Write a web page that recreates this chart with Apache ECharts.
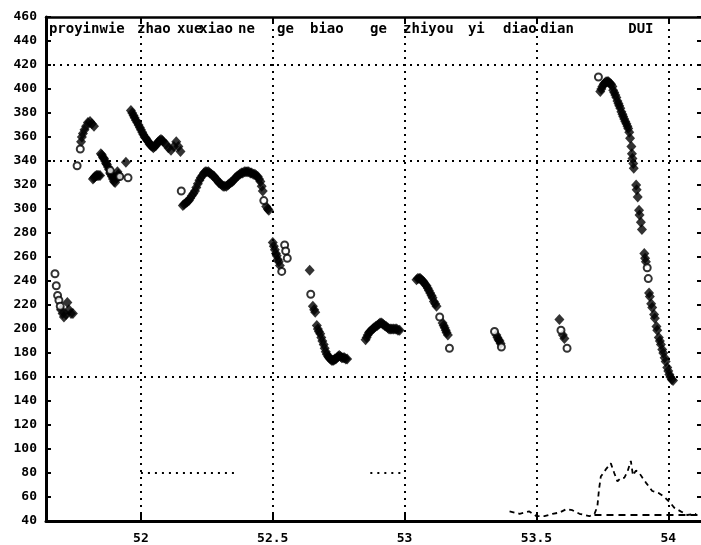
<!DOCTYPE html>
<html><head><meta charset="utf-8">
<script src="https://cdn.jsdelivr.net/npm/echarts@6/dist/echarts.min.js"></script>
<style>html,body{margin:0;padding:0;background:#fff}#c{width:701px;height:545px}</style>
</head><body><div id="c"></div>
<script>
// ---- data (time in s, F0 in Hz) ----
const xTickValues = [52, 52.5, 53, 53.5, 54];
const yRange = [40, 460];
const xRange = [51.64, 54.124];
const verticalGrid = [52, 52.5, 53, 53.5, 54];
const horizontalGrid = [420, 340, 160];
const partialGrid80a = [[52, 80], [52.37, 80]];
const partialGrid80b = [[52.87, 80], [53, 80]];

const words = ['proyinwie','zhao','xue','xiao','ne','ge','biao','ge','zhiyou','yi','diao','dian','DUI'];
const wordTimes = [51.651, 51.985, 52.137, 52.221, 52.368, 52.516, 52.641, 52.869, 52.994, 53.240, 53.373, 53.514, 53.848];

const filledPts = [
 // proyinwie
 [51.697,216],[51.703,213],[51.708,210],[51.716,212],[51.721,222],[51.727,216],[51.735,213],[51.742,213],
 [51.773,356],[51.776,360],[51.780,363],[51.786,366],[51.792,369],[51.799,372],[51.807,373],[51.814,371],[51.822,369],
 [51.818,325],[51.822,326],[51.826,327],[51.831,328],[51.835,328],[51.840,328],[51.845,328],
 [51.848,346],[51.852,345],[51.856,343],[51.860,342],[51.864,340],[51.868,338],[51.871,337],[51.875,335],[51.879,333],
 [51.883,330],[51.886,329],[51.890,327],[51.894,325],[51.898,323],[51.902,322],[51.907,326],[51.911,331],[51.914,329],[51.917,327],[51.943,339],
 // zhao
 [51.962,382],[51.967,380],[51.972,378],[51.976,376],[51.981,374],[51.986,372],[51.991,370],[51.996,368],[52.000,366],
 [52.005,364],[52.009,362],[52.014,360],[52.019,359],[52.024,357],[52.028,356],[52.033,354],[52.038,353],[52.043,352],
 [52.047,351],[52.052,352],[52.057,353],[52.062,355],[52.066,356],[52.071,357],[52.076,358],[52.081,357],[52.085,356],
 [52.095,354],[52.104,351],[52.114,349],[52.125,352],[52.134,356],[52.142,352],[52.150,348],
 // xuexiao ne
 [52.159,303],[52.164,304],[52.170,305],[52.176,306],[52.182,307],[52.187,309],[52.193,311],[52.199,313],[52.205,315],
 [52.210,318],[52.216,321],[52.222,324],[52.227,326],[52.233,328],[52.239,330],[52.244,331],[52.250,331],[52.256,331],
 [52.261,330],[52.267,329],[52.273,328],[52.278,327],[52.284,325],[52.290,324],[52.295,322],[52.301,321],[52.307,320],
 [52.312,319],[52.318,319],[52.324,319],[52.330,320],[52.335,321],[52.341,322],[52.347,323],[52.352,324],[52.358,326],
 [52.364,327],[52.369,328],[52.375,329],[52.381,330],[52.386,330],[52.392,331],[52.398,331],[52.403,331],[52.409,331],
 [52.415,330],[52.420,330],[52.426,329],[52.432,329],[52.437,328],[52.443,327],[52.448,325],[52.453,323],[52.458,319],
 [52.462,315],[52.475,302],[52.481,300],[52.485,299],
 // ge
 [52.500,272],[52.504,269],[52.508,266],[52.512,263],[52.515,261],[52.519,258],[52.523,256],[52.527,253],
 // biao
 [52.640,249],[52.652,219],[52.657,216],[52.661,214],[52.667,203],[52.671,200],[52.675,198],[52.680,196],[52.684,193],
 [52.688,190],[52.693,187],[52.697,184],[52.701,181],[52.705,179],[52.710,177],[52.714,176],[52.718,175],[52.723,174],
 [52.727,174],[52.731,174],[52.735,175],[52.739,175],[52.743,176],[52.748,177],[52.752,178],[52.757,177],[52.762,176],
 [52.767,176],[52.772,176],[52.777,175],[52.782,175],
 // ge
 [52.852,191],[52.856,193],[52.860,195],[52.865,197],[52.869,198],[52.874,199],[52.879,200],[52.884,201],[52.890,202],
 [52.896,203],[52.902,204],[52.907,205],[52.913,205],[52.918,204],[52.924,203],[52.930,202],[52.936,201],[52.941,200],
 [52.947,200],[52.952,200],[52.958,200],[52.964,200],[52.970,200],[52.975,199],[52.981,199],
 // zhiyou
 [53.045,241],[53.050,242],[53.055,242],[53.059,242],[53.064,241],[53.069,240],[53.073,239],[53.078,237],[53.083,236],
 [53.088,234],[53.092,232],[53.097,230],[53.102,228],[53.106,226],[53.111,223],[53.116,221],[53.121,219],
 [53.144,205],[53.148,203],[53.152,201],[53.156,199],[53.159,197],[53.164,195],
 // yi
 [53.348,195],[53.352,193],[53.356,191],[53.360,190],[53.364,188],
 // diao dian
 [53.587,208],[53.600,195],[53.606,192],
 // DUI
 [53.742,398],[53.746,400],[53.750,402],[53.755,404],[53.759,405],[53.764,406],[53.769,406],[53.773,406],[53.778,405],
 [53.783,404],[53.788,402],[53.791,399],[53.795,397],[53.799,395],[53.803,393],[53.807,390],[53.811,388],[53.814,386],
 [53.818,384],[53.822,381],[53.826,379],[53.829,377],[53.833,375],[53.837,373],[53.841,371],[53.845,369],[53.848,367],
 [53.852,364],[53.855,359],[53.860,352],[53.862,346],[53.864,342],[53.867,338],[53.869,334],
 [53.878,320],[53.880,316],[53.884,310],[53.889,299],[53.891,295],[53.896,289],[53.900,283],
 [53.909,263],[53.912,259],[53.915,256],
 [53.927,230],[53.930,227],[53.935,221],[53.939,218],[53.946,212],[53.949,209],[53.955,202],[53.958,199],
 [53.964,193],[53.968,190],[53.972,187],[53.977,183],[53.981,180],[53.986,176],[53.990,173],[53.996,168],
 [54.000,165],[54.004,162],[54.008,160],[54.013,158],[54.018,157]
];

const openPts = [
 [51.674,246],[51.679,236],[51.684,228],[51.689,224],[51.694,219],
 [51.758,336],[51.770,350],[51.884,332],[51.920,327],[51.951,326],
 [52.153,315],[52.466,307],
 [52.534,248],[52.545,270],[52.549,265],[52.555,259],
 [52.644,229],
 [53.133,210],[53.170,184],
 [53.341,198],[53.367,185],
 [53.593,199],[53.616,184],
 [53.735,410],[53.920,251],[53.924,242]
];

const amplitudeTrace = [
 [53.398,48],[53.436,46],[53.473,48],[53.500,44],[53.530,44],[53.561,46],[53.587,47],[53.614,50],[53.636,49],
 [53.663,46],[53.701,44],[53.720,46],[53.731,52],[53.737,66],[53.744,77],[53.763,83],[53.782,88],[53.795,80],
 [53.807,73],[53.820,76],[53.833,76],[53.845,81],[53.858,90],[53.866,78],[53.877,82],[53.890,80],[53.902,76],
 [53.915,72],[53.939,65],[53.966,63],[53.985,60],[54.004,56],[54.023,51],[54.047,48],[54.072,45],[54.106,46]
];
const thresholdLine = [[53.720,45],[54.124,45]];

// ---- chart ----
const chart = echarts.init(document.getElementById('c'), null, {renderer:'canvas'});
const fnt = '"DejaVu Sans Mono", "Liberation Mono", monospace';
const dotStyle = {color:'#000', width:2, type:[2,5]};
const fmt = v => (Math.abs(v - Math.round(v)) < 1e-6 ? String(Math.round(v)) : v.toFixed(1));

const option = {
  backgroundColor:'#fff',
  animation:false,
  grid:{left:46, right:0, top:17, bottom:24, containLabel:false},
  xAxis:[{
    type:'value', min:xRange[0], max:xRange[1], position:'bottom',
    axisLine:{show:true, lineStyle:{color:'#000', width:3}},
    axisTick:{show:true, inside:true, length:7, customValues:xTickValues, lineStyle:{color:'#000', width:2}},
    axisLabel:{show:true, customValues:xTickValues, formatter:fmt, margin:11, color:'#000',
      fontFamily:fnt, fontWeight:'bold', fontSize:13},
    splitLine:{show:false}
  },{
    type:'value', min:xRange[0], max:xRange[1], position:'top',
    axisLine:{show:true, lineStyle:{color:'#000', width:2.5}},
    axisTick:{show:true, inside:true, length:5, customValues:xTickValues, lineStyle:{color:'#000', width:2}},
    axisLabel:{show:false}, splitLine:{show:false}
  }],
  yAxis:[{
    type:'value', min:yRange[0], max:yRange[1], interval:20, position:'left',
    axisLine:{show:true, lineStyle:{color:'#000', width:3}},
    axisTick:{show:true, inside:true, length:5, lineStyle:{color:'#000', width:2}},
    axisLabel:{show:true, margin:9, color:'#000', fontFamily:fnt, fontWeight:'bold', fontSize:13},
    splitLine:{show:false}
  },{
    type:'value', min:yRange[0], max:yRange[1], interval:20, position:'right',
    axisLine:{show:false},
    axisTick:{show:true, inside:true, length:4, lineStyle:{color:'#000', width:2}},
    axisLabel:{show:false}, splitLine:{show:false}
  }],
  series:[
    {
      type:'line', data:[], silent:true,
      markLine:{
        silent:true, symbol:['none','none'], label:{show:false},
        lineStyle:dotStyle,
        data:[
          ...verticalGrid.map(v => ({xAxis:v})),
          ...horizontalGrid.map(v => ({yAxis:v})),
          [{coord:partialGrid80a[0]},{coord:partialGrid80a[1]}],
          [{coord:partialGrid80b[0]},{coord:partialGrid80b[1]}]
        ]
      }
    },
    {
      type:'line', data:thresholdLine, symbol:'none', silent:true,
      lineStyle:{color:'#000', width:1.8, type:[7,5]}
    },
    {
      type:'line', data:amplitudeTrace, symbol:'none', silent:true,
      lineStyle:{color:'#000', width:1.8, type:[5,4]}
    },
    {
      type:'scatter', data:filledPts, symbol:'diamond', symbolSize:[10,11], silent:true,
      itemStyle:{color:'#000'}
    },
    {
      type:'scatter', data:openPts, symbol:'circle', symbolSize:7, silent:true, z:3,
      itemStyle:{color:'#fff', borderColor:'#000', borderWidth:2}
    }
  ]
};
chart.setOption(option);

const graphics = words.map((w, i) => {
  const px = chart.convertToPixel({xAxisIndex:0}, wordTimes[i]);
  return {type:'text', left:px, top:22, silent:true,
    style:{text:w, fill:'#000', font:'bold 14px ' + fnt}};
});
chart.setOption({graphic:graphics});
</script>
</body></html>
